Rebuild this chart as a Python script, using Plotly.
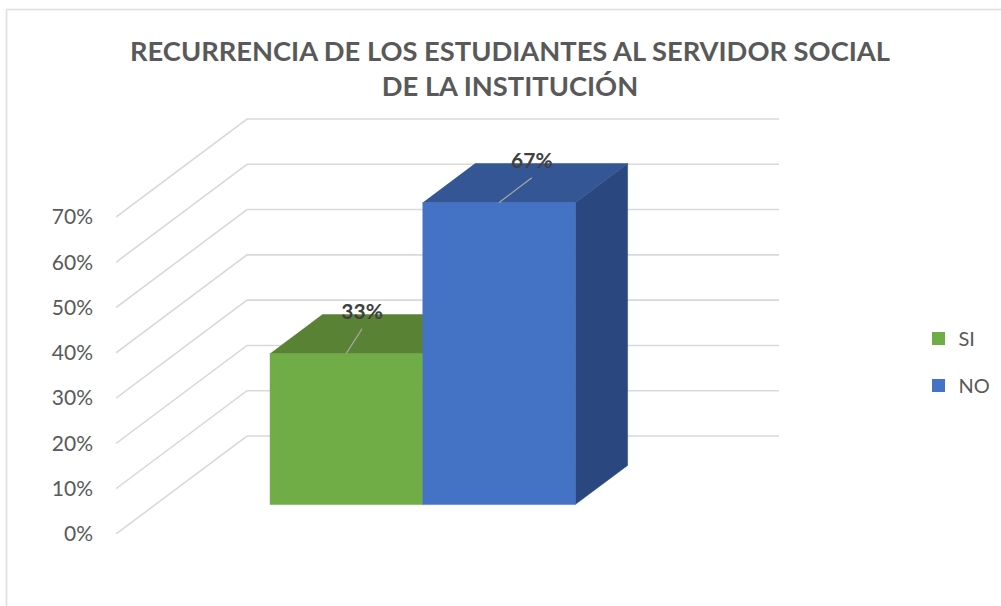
import plotly.graph_objects as go

# Data
categories = ["SI", "NO"]
values = [33.33, 66.67]
tick_values = [0, 10, 20, 30, 40, 50, 60, 70]
title_text = "RECURRENCIA DE LOS ESTUDIANTES AL SERVIDOR SOCIAL<br>DE LA INSTITUCIÓN"

# Style
front_colors = ["#70AD47", "#4472C4"]
top_colors = ["#5A8235", "#345695"]
side_colors = ["#527E31", "#2A4780"]
grid_color = "#D9D9D9"
text_color = "#595959"
label_color = "#404040"
font = "Lato"

# Oblique projection of the 3D chart box
W, H = 1001, 606
L, R, T, B = 116, 779, 118, 534
Y_PER_PX = 70 / 317
DEPTH_X = 131          # horizontal shift of the back wall
DEPTH_Y = 98 * Y_PER_PX  # vertical shift of the back wall, in value units
BAR_START = 114.5      # front-plane x of first bar
BAR_W = 152.7
D_FRONT, D_BACK = 0.3, 0.7
Y_TOP = (B - T) * Y_PER_PX


def proj(x, value, depth):
    return x + depth * DEPTH_X, value + depth * DEPTH_Y


def poly(points, color):
    xs, ys = zip(*[proj(*p) for p in points])
    return go.Scatter(x=list(xs), y=list(ys), mode="lines", fill="toself",
                      fillcolor=color, line=dict(color=color, width=0.5),
                      hoverinfo="skip", showlegend=False)


fig = go.Figure()

# Walls
for t in tick_values:
    pts = [proj(0, t, 0), proj(0, t, 1), proj(R - L - DEPTH_X, t, 1)]
    fig.add_trace(go.Scatter(x=[p[0] for p in pts], y=[p[1] for p in pts], mode="lines",
                             line=dict(color=grid_color, width=1.6),
                             hoverinfo="skip", showlegend=False))

# Bars
for i, (name, v) in enumerate(zip(categories, values)):
    x0 = BAR_START + i * BAR_W
    x1 = x0 + BAR_W
    fig.add_trace(poly([(x1, 0, D_FRONT), (x1, 0, D_BACK), (x1, v, D_BACK), (x1, v, D_FRONT)], side_colors[i]))
    fig.add_trace(poly([(x0, v, D_FRONT), (x1, v, D_FRONT), (x1, v, D_BACK), (x0, v, D_BACK)], top_colors[i]))
    fig.add_trace(poly([(x0, 0, D_FRONT), (x1, 0, D_FRONT), (x1, v, D_FRONT), (x0, v, D_FRONT)], front_colors[i]))

# Leader lines and data labels
leader_dx = [16, 33]
label_dx = [16, 33]
leader_dy = 25 * Y_PER_PX
label_dy = [40 * Y_PER_PX, 39.5 * Y_PER_PX]
for i, v in enumerate(values):
    cx, cy = proj(BAR_START + (i + 0.5) * BAR_W, v, D_FRONT)
    fig.add_trace(go.Scatter(x=[cx, cx + leader_dx[i]], y=[cy, cy + leader_dy], mode="lines",
                             line=dict(color="#A6A6A6", width=1.2),
                             hoverinfo="skip", showlegend=False))
    fig.add_trace(go.Scatter(x=[cx + label_dx[i]], y=[cy + label_dy[i]], mode="text",
                             text=[f"{v:.0f}%"], textposition="middle center",
                             textfont=dict(family=font, size=21, color=label_color, weight="bold"),
                             hoverinfo="skip", showlegend=False))

# Legend entries
for i, name in enumerate(categories):
    fig.add_trace(go.Scatter(x=[None], y=[None], mode="markers", name=name, legendgroup=name,
                             marker=dict(symbol="square", size=13, color=front_colors[i])))


def px_x(p):
    return (p - L) / (R - L)


def px_y(p):
    return (B - p) / (B - T)


fig.update_layout(
    width=W, height=H,
    margin=dict(l=L, r=W - R, t=T, b=H - B, autoexpand=False),
    paper_bgcolor="white", plot_bgcolor="white",
    font=dict(family=font, color=text_color, size=20),
    title=dict(text=title_text, x=510 / W, xanchor="center", y=1 - 61 / H, yanchor="top",
               font=dict(family=font, size=27.3, color=text_color, weight="bold")),
    xaxis=dict(range=[0, R - L], visible=False, fixedrange=True),
    yaxis=dict(range=[0, Y_TOP], tickmode="array", tickvals=tick_values,
               ticktext=[f"{t}%" for t in tick_values], showgrid=False, zeroline=False,
               showline=False, ticks="", ticklabelstandoff=22, fixedrange=True,
               tickfont=dict(family=font, size=21, color=text_color)),
    legend=dict(x=px_x(918.5), xanchor="left", y=px_y(319), yanchor="top",
                tracegroupgap=18, itemwidth=30, font=dict(family=font, size=20, color=text_color),
                bgcolor="rgba(0,0,0,0)"),
    shapes=[
        dict(type="line", xref="paper", yref="paper", x0=px_x(6.5), x1=px_x(6.5), y0=px_y(9.5), y1=px_y(606),
             line=dict(color="#DEDEDE", width=1.6), layer="below"),
        dict(type="line", xref="paper", yref="paper", x0=px_x(6.5), x1=px_x(1001), y0=px_y(9.5), y1=px_y(9.5),
             line=dict(color="#DEDEDE", width=1.6), layer="below"),
    ],
)

fig.write_html("out.html", config={"displayModeBar": False},
               post_script="document.body.style.margin='0';")
